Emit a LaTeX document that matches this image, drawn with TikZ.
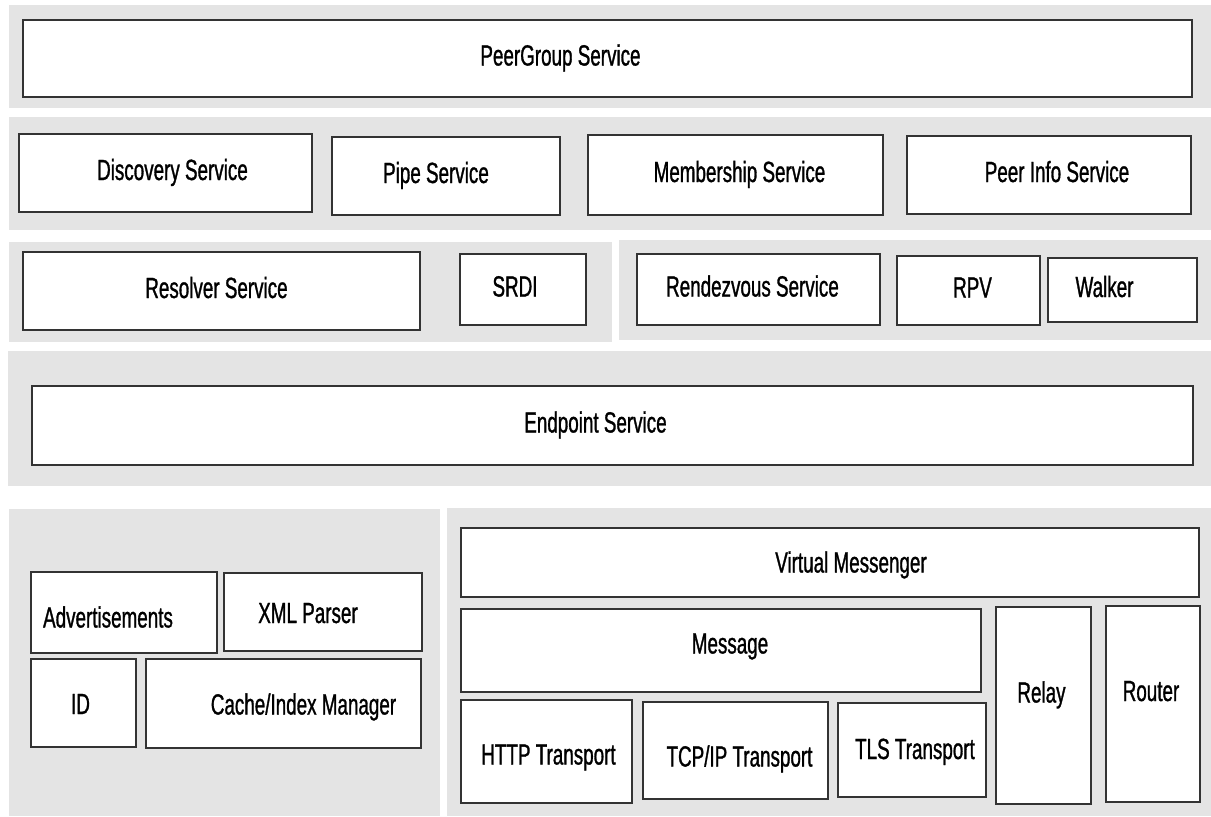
\documentclass[tikz,border=0pt]{standalone}
\usepackage{fontspec}
\setmainfont{Liberation Sans}[FakeStretch=0.645, FakeBold=1]
\usepackage{xcolor}
\usepackage{tikz}
\definecolor{bandgray}{RGB}{228,228,228}

\begin{document}
\begin{tikzpicture}[x=0.5pt, y=-0.5pt,
    band/.style={fill=bandgray},
    boxsize/.style 2 args={minimum width=#1*0.5pt, minimum height=#2*0.5pt},
    svcbox/.style={draw=black!80, line width=0.75pt, fill=white, rectangle, inner sep=0pt,
                   font=\fontsize{14.6pt}{17pt}\selectfont, text height=10.5pt, text depth=3.5pt}]
            \useasboundingbox (0,0) rectangle (1211,816);
            % layers
            \fill[band] (9,5) rectangle (1211,108);
            \fill[band] (9,117) rectangle (1211,230);
            \fill[band] (9,242) rectangle (612,342);
            \fill[band] (619,240) rectangle (1211,340);
            \fill[band] (8,351) rectangle (1211,486);
            \fill[band] (9,509) rectangle (440,816);
            \fill[band] (447,508) rectangle (1211,816);
            % services
            \node[svcbox, boxsize={1169}{77}] (peergroup) at (607.5,58.5) {PeerGroup Service\kern47pt};
            \node[svcbox, boxsize={293}{78}] (discovery) at (165.5,173) {\kern7pt Discovery Service};
            \node[svcbox, boxsize={228}{78}] (pipe) at (446,176) {Pipe Service\kern10pt};
            \node[svcbox, boxsize={295}{80}] (membership) at (735.5,175) {\kern4pt Membership Service};
            \node[svcbox, boxsize={284}{78}] (peerinfo) at (1049,175) {\kern8pt Peer Info Service};
            \node[svcbox, boxsize={397}{78}] (resolver) at (221.5,291) {Resolver Service\kern5pt};
            \node[svcbox, boxsize={126}{71}] (srdi) at (523,289.5) {SRDI\kern8pt};
            \node[svcbox, boxsize={243}{71}] (rendezvous) at (758.5,289.5) {Rendezvous Service\kern6pt};
            \node[svcbox, boxsize={143}{69}] (rpv) at (968.5,290.5) {\kern4pt RPV};
            \node[svcbox, boxsize={149}{64}] (walker) at (1122.5,290) {Walker\kern18pt};
            \node[svcbox, boxsize={1161}{79}] (endpoint) at (612.5,425.5) {Endpoint Service\kern17pt};
            % core
            \node[svcbox, boxsize={186}{81}] (adverts) at (124,612.5) {\raisebox{-4pt}{Advertisements}\kern16pt};
            \node[svcbox, boxsize={198}{78}] (xmlparser) at (323,612) {\raisebox{-2pt}{XML Parser}\kern15pt};
            \node[svcbox, boxsize={105}{88}] (id) at (83.5,703) {\raisebox{-2pt}{ID}\kern3pt};
            \node[svcbox, boxsize={275}{89}] (cache) at (283.5,703.5) {\kern20pt\raisebox{-2pt}{Cache/Index Manager}};
            % transports
            \node[svcbox, boxsize={738}{69}] (virtmsgr) at (830,562.5) {\kern21pt\raisebox{-1.5pt}{Virtual Messenger}};
            \node[svcbox, boxsize={520}{83}] (message) at (721,650.5) {\kern9pt\raisebox{2pt}{Message}};
            \node[svcbox, boxsize={95}{197}] (relay) at (1043.5,705.5) {\raisebox{5pt}{Relay}\kern2pt};
            \node[svcbox, boxsize={94}{196}] (router) at (1153,704) {\raisebox{5pt}{Router}\kern2pt};
            \node[svcbox, boxsize={171}{103}] (http) at (546.5,751.5) {\kern2pt\raisebox{-3pt}{HTTP Transport}};
            \node[svcbox, boxsize={185}{97}] (tcpip) at (735.5,750.5) {\kern4pt\raisebox{-4.5pt}{TCP/IP Transport}};
            \node[svcbox, boxsize={148}{94}] (tls) at (912,750) {\kern3pt\raisebox{-1pt}{TLS Transport}};
        \end{tikzpicture}
\end{document}
